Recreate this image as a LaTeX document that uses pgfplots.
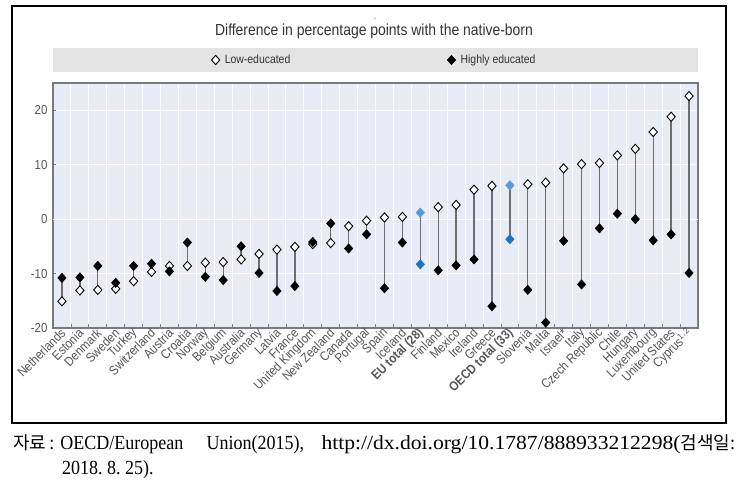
\documentclass[border=0pt]{standalone}
\usepackage{pgfplots}
\pgfplotsset{compat=1.18}
\usepackage{pgfplotstable}
\usepackage{fontspec}
\setmainfont{Liberation Sans}
\newfontfamily\narrow[FakeStretch=0.87]{Liberation Sans}
\newfontfamily\ticknarrow[FakeStretch=0.88]{Liberation Sans}
\newfontfamily\srcfont[FakeStretch=0.9]{Liberation Serif}
\newfontfamily\urlfont[FakeStretch=1.08]{Liberation Serif}
\newfontfamily\kr{Noto Sans CJK KR}
\definecolor{plotbg}{HTML}{E8ECF7}
\definecolor{bandgray}{HTML}{E4E4E4}
\definecolor{labelgray}{HTML}{555555}
\definecolor{titlegray}{HTML}{333333}
\definecolor{axisgray}{HTML}{7A7A7A}
\definecolor{linegray}{HTML}{6E6E6E}
\definecolor{bluelight}{HTML}{5B9BD5}
\definecolor{bluedark}{HTML}{1F74C4}

% x = category index, lo = low-educated, hi = highly educated
\pgfplotstableread{
x lo hi
0 -15.1 -10.8
1 -13.1 -10.7
2 -13.0 -8.6
3 -12.8 -11.7
4 -11.4 -8.6
5 -9.7 -8.2
6 -8.6 -9.6
7 -8.6 -4.3
8 -8.0 -10.6
9 -7.9 -11.2
10 -7.4 -5.0
11 -6.4 -9.9
12 -5.6 -13.2
13 -5.1 -12.3
14 -4.6 -4.2
15 -4.4 -0.8
16 -1.3 -5.4
17 -0.3 -2.8
18 0.3 -12.7
19 0.4 -4.3
21 2.2 -9.4
22 2.6 -8.5
23 5.4 -7.4
24 6.1 -16.0
26 6.4 -13.0
27 6.7 -19.0
28 9.3 -4.0
29 10.1 -12.0
30 10.3 -1.7
31 11.7 1.0
32 12.9 0.0
33 16.0 -3.9
34 18.8 -2.8
35 22.6 -9.9
}\maindata
\pgfplotstableread{
x lo hi
20 1.2 -8.3
25 6.2 -3.7
}\totals

\begin{document}
\begin{tikzpicture}[x=1pt,y=1pt]
\path[use as bounding box] (0,0) rectangle (739,486);
\draw[line width=1.2pt] (12,63) rectangle (726,480);
\fill[bandgray] (53,414) rectangle (698,438);
\node[font=\narrow\fontsize{7}{8}\selectfont, text=titlegray] at (375,467) {-};
\node[font=\narrow\fontsize{16}{18}\selectfont, text=titlegray] at (374,455) {Difference in percentage points with the native-born};
\begin{axis}[
  at={(53pt,158pt)}, anchor=south west,
  scale only axis, width=645pt, height=245pt,
  xmin=-0.5, xmax=35.5, ymin=-20, ymax=25,
  axis background/.style={fill=plotbg},
  axis line style={axisgray, line width=1.3pt},
  xtick={0,...,35},
  xticklabels={Netherlands, Estonia, Denmark, Sweden, Turkey, Switzerland, Austria, Croatia, Norway, Belgium, Australia, Germany, Latvia, France, United Kingdom, New Zealand, Canada, Portugal, Spain, Iceland, {\bfseries EU total (28)}, Finland, Mexico, Ireland, Greece, {\bfseries OECD total (33)}, Slovenia, Malta, Israel*, Italy, Czech Republic, Chile, Hungary, Luxembourg, United States, {Cyprus\textsuperscript{1,\,2}}},
  major x tick style={draw=none},
  minor xtick={0.5,1.5,...,34.5},
  minor tick length=4pt,
  minor x tick style={axisgray, line width=0.8pt},
  xminorgrids, minor x grid style={white, line width=1pt},
  xtick pos=bottom,
  ytick={-20,-10,0,10,20},
  ytick pos=left,
  major tick length=3pt,
  major y tick style={axisgray, line width=0.8pt},
  ymajorgrids, major y grid style={white, line width=1pt},
  extra y ticks={0}, extra y tick labels={},
  extra y tick style={grid=major, major grid style={black!70, line width=1.6pt}, major tick length=0pt},
  /pgf/number format/assume math mode=true,
  ticklabel style={font=\ticknarrow\fontsize{13}{14}\selectfont, text=labelgray},
  x tick label style={rotate=45, anchor=east, yshift=-3pt, xshift=0pt, inner sep=1pt},
  y tick label style={xshift=-2pt},
  legend columns=2,
  legend style={at={(0.5,1)}, anchor=center, yshift=23pt, xshift=-1pt, draw=none, fill=none,
    font=\narrow\fontsize{12}{14}\selectfont, text=titlegray,
    /tikz/every odd column/.append style={column sep=3pt},
    /tikz/every even column/.append style={column sep=155pt}},
]
\addplot[forget plot, mark=none, draw=linegray, line width=1.3pt,
  quiver={u=0, v=\thisrow{hi}-\thisrow{lo}}] table[x=x, y=lo] {\maindata};
\addplot[forget plot, mark=none, draw=linegray, line width=1.3pt,
  quiver={u=0, v=\thisrow{hi}-\thisrow{lo}}] table[x=x, y=lo] {\totals};
\addplot[only marks, mark=diamond*, mark size=4.6pt,
  mark options={xscale=1.2, fill=white, draw=black, line width=0.9pt}]
  table[x=x, y=lo] {\maindata};
\addlegendentry{Low-educated}
\addplot[only marks, mark=diamond*, mark size=4.6pt,
  mark options={xscale=1.2, fill=black, draw=black, line width=0.6pt}]
  table[x=x, y=hi] {\maindata};
\addlegendentry{Highly educated}
\addplot[forget plot, only marks, mark=diamond*, mark size=4.6pt,
  mark options={xscale=1.2, fill=bluelight, draw=bluelight, line width=0.6pt}]
  table[x=x, y=lo] {\totals};
\addplot[forget plot, only marks, mark=diamond*, mark size=4.6pt,
  mark options={xscale=1.2, fill=bluedark, draw=bluedark, line width=0.6pt}]
  table[x=x, y=hi] {\totals};
\end{axis}
\node[anchor=base west, inner sep=0pt] at (13,36) {\makebox[722pt][s]{{\kr\fontsize{18}{20}\selectfont 자료}\kern3pt{\srcfont\fontsize{20}{22}\selectfont :}\kern6pt\srcfont\fontsize{20}{22}\selectfont OECD/European\ \ \ \ Union(2015),\ \ \ {\urlfont http://dx.doi.org/10.1787/888933212298(}{\kr\fontsize{18}{20}\selectfont 검색일}:}};
\node[anchor=base west, inner sep=0pt] at (62,11) {\srcfont\fontsize{20}{22}\selectfont 2018.\ 8.\ 25).};
\end{tikzpicture}
\end{document}
